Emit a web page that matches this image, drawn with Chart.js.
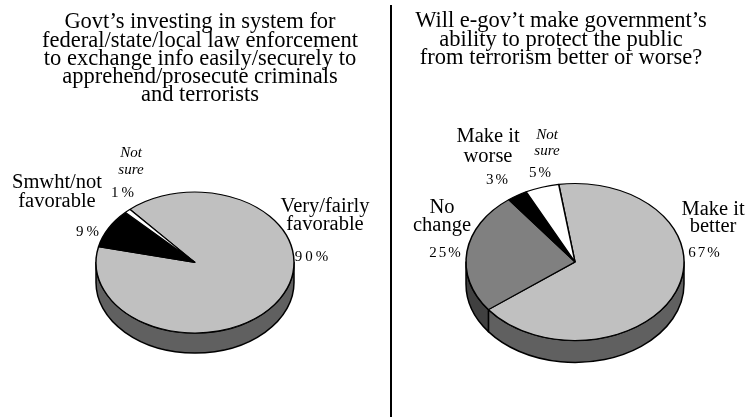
<!DOCTYPE html>
<html>
<head>
<meta charset="utf-8">
<script src="https://cdn.jsdelivr.net/npm/chart.js@4/dist/chart.umd.min.js"></script>
<style>
  html, body { margin: 0; padding: 0; background: #fff; }
  #stage { position: relative; width: 748px; height: 417px; overflow: hidden; background: #fff; }
  canvas { position: absolute; left: 0; top: 0; }
  .t { position: absolute; white-space: nowrap; font-family: "Liberation Serif", "Times New Roman", serif; color: #000; transform: translateX(-50%); }
  #divider { position: absolute; left: 390px; top: 5px; width: 2px; height: 412px; background: #000; }
</style>
</head>
<body>
<div id="stage">
  <canvas id="c1" width="748" height="417"></canvas>
  <canvas id="c2" width="748" height="417"></canvas>
  <div id="divider"></div>
</div>
<script>
// ---- Data ----
const leftTitle = ["Govt\u2019s investing in system for", "federal/state/local law enforcement", "to exchange info easily/securely to", "apprehend/prosecute criminals", "and terrorists"];
const leftCategories = ["Very/fairly favorable", "Smwht/not favorable", "Not sure"];
const leftLabelLines = [["Very/fairly", "favorable"], ["Smwht/not", "favorable"], ["Not", "sure"]];
const leftValues = [90, 9, 1];

const rightTitle = ["Will e-gov\u2019t make government\u2019s", "ability to protect the public", "from terrorism better or worse?"];
const rightCategories = ["Make it better", "No change", "Make it worse", "Not sure"];
const rightLabelLines = [["Make it", "better"], ["No", "change"], ["Make it", "worse"], ["Not", "sure"]];
const rightValues = [67, 25, 3, 5];

// ---- Styles ----
const leftTop = ["#c0c0c0", "#000000", "#ffffff"];
const leftSide = ["#606060", "#000000", "#ffffff"];
const rightTop = ["#c0c0c0", "#808080", "#000000", "#ffffff"];
const rightSide = ["#606060", "#404040", "#000000", "#ffffff"];

// 3D pie plugin: draws the rim from Chart.js arc geometry and squashes the top into an ellipse
const pie3d = {
  id: 'pie3d',
  beforeDatasetsDraw(chart, args, opts) {
    const arcs = chart.getDatasetMeta(0).data;
    if (!arcs.length) return;
    const ctx = chart.ctx;
    const { x, y, outerRadius: r } = arcs[0];
    const k = opts.ratio, d = opts.depth;
    const TAU = Math.PI * 2;
    ctx.save();
    ctx.lineWidth = 1.5;
    ctx.strokeStyle = '#000';
    ctx.lineJoin = 'round';
    arcs.forEach((arc, i) => {
      let s = ((arc.startAngle % TAU) + TAU) % TAU;
      let e = s + (arc.endAngle - arc.startAngle);
      [[0, Math.PI], [TAU, TAU + Math.PI]].forEach(([lo, hi]) => {
        const a = Math.max(s, lo), b = Math.min(e, hi);
        if (b <= a) return;
        ctx.beginPath();
        ctx.ellipse(x, y, r, r * k, 0, a, b, false);
        ctx.lineTo(x + r * Math.cos(b), y + r * k * Math.sin(b) + d);
        ctx.ellipse(x, y + d, r, r * k, 0, b, a, true);
        ctx.closePath();
        ctx.fillStyle = opts.sideColors[i];
        ctx.fill();
        ctx.stroke();
      });
    });
    ctx.restore();
    ctx.save();
    ctx.translate(x, y);
    ctx.scale(1, k);
    ctx.translate(-x, -y);
  },
  afterDatasetsDraw(chart) {
    chart.ctx.restore();
  }
};

function makePie(id, cats, vals, topColors, sideColors, cx, cy, r, k, depth, rotation) {
  const W = 748, H = 417;
  new Chart(document.getElementById(id), {
    type: 'pie',
    data: {
      labels: cats,
      datasets: [{
        data: vals,
        backgroundColor: topColors,
        borderColor: '#000',
        borderWidth: 1.5,
        borderAlign: 'center'
      }]
    },
    options: {
      responsive: false,
      animation: false,
      events: [],
      rotation: rotation,
      radius: r,
      layout: { padding: { left: cx - r - 1, right: W - (cx + r + 1), top: cy - r - 1, bottom: H - (cy + r + 1) } },
      plugins: {
        legend: { display: false },
        tooltip: { enabled: false },
        pie3d: { ratio: k, depth: depth, sideColors: sideColors }
      }
    },
    plugins: [pie3d]
  });
}

makePie('c1', leftCategories, leftValues, leftTop, leftSide, 195, 262.5, 99, 0.712, 20, 318.9);
makePie('c2', rightCategories, rightValues, rightTop, rightSide, 575, 262, 109, 0.72, 22, 351.4);

// ---- Text ----
const stage = document.getElementById('stage');
function put(text, cx, baseline, size, extra) {
  const el = document.createElement('div');
  el.className = 't';
  el.textContent = text;
  el.style.fontSize = size + 'px';
  el.style.lineHeight = size + 'px';
  el.style.left = cx + 'px';
  el.style.top = (baseline - 0.8375 * size) + 'px';
  if (extra) Object.assign(el.style, extra);
  stage.appendChild(el);
}
const pct = v => String(v) + '%';

// titles
const leftTitleBase = [29, 47.5, 66, 84, 102];
leftTitle.forEach((line, i) => put(line, 200, leftTitleBase[i], 22.5));
const rightTitleBase = [28, 46.5, 65];
rightTitle.forEach((line, i) => put(line, 561, rightTitleBase[i], 22.5));

// left labels: [line positions], percent positions
const leftLabelPos = [
  { x: 325, base: [212, 230], px: 313, pb: 262, italic: false },
  { x: 57,  base: [188, 207], px: 89,  pb: 237, italic: false },
  { x: 131, base: [158, 175], px: 124, pb: 198, italic: true }
];
leftLabelLines.forEach((lines, i) => {
  const p = leftLabelPos[i];
  lines.forEach((ln, j) => put(ln, p.x, p.base[j], p.italic ? 15 : 20.5, p.italic ? { fontStyle: 'italic' } : null));
  put(pct(leftValues[i]), p.px, p.pb, 15, { letterSpacing: '3px' });
});

const rightLabelPos = [
  { x: 713, base: [215, 232], px: 705, pb: 258, italic: false },
  { x: 442, base: [213, 231], px: 446, pb: 258, italic: false },
  { x: 488, base: [142, 162], px: 498, pb: 185, italic: false },
  { x: 547, base: [140, 156], px: 541, pb: 178, italic: true }
];
rightLabelLines.forEach((lines, i) => {
  const p = rightLabelPos[i];
  lines.forEach((ln, j) => put(ln, p.x, p.base[j], p.italic ? 15 : 20.5, p.italic ? { fontStyle: 'italic' } : null));
  put(pct(rightValues[i]), p.px, p.pb, 15, { letterSpacing: '2px' });
});
</script>
</body>
</html>
